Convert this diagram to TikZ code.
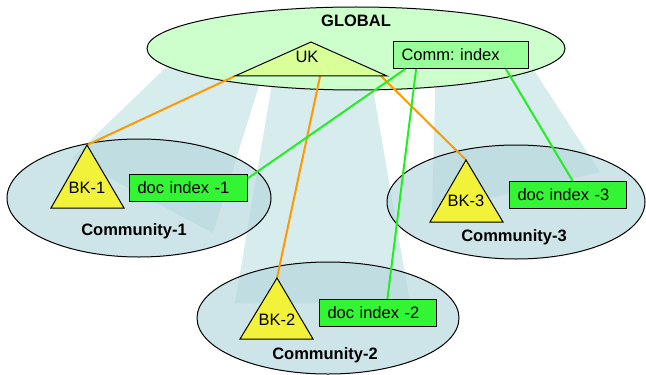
\documentclass[tikz,border=0pt]{standalone}
\usepackage{fontspec}
\setmainfont{Liberation Sans}
\usetikzlibrary{shapes.geometric,calc}
\frenchspacing
\definecolor{beamfill}{HTML}{D6ECED}
\definecolor{commfill}{HTML}{B8D8DE}
\definecolor{globalfill}{HTML}{CCFFCC}
\definecolor{ukfill}{HTML}{D9FF99}
\definecolor{indexfill}{HTML}{99FF99}
\definecolor{docfill}{HTML}{33F533}
\definecolor{bkfill}{HTML}{F2F23A}
\definecolor{linkorange}{HTML}{FF9900}
\definecolor{linkgreen}{HTML}{22EE22}
\tikzset{
  beam/.style={fill=beamfill},
  zone/.style={ellipse, draw=black, line width=0.5pt, fill=commfill, fill opacity=0.7, inner sep=0pt},
  globalzone/.style={ellipse, draw=black, line width=0.5pt, fill=globalfill, inner sep=0pt},
  tri/.style={draw=black, line width=0.5pt, line join=miter},
  label/.style={font=\fontsize{8.25}{10}\selectfont, inner sep=0pt},
  title/.style={font=\fontsize{8.25}{10}\selectfont\bfseries, inner sep=0pt},
  databox/.style={draw=black, line width=0.5pt, anchor=north west, minimum height=13.5pt,
    inner ysep=0pt, inner xsep=4pt, align=left, font=\fontsize{8.25}{10}\selectfont},
  orangelink/.style={draw=linkorange, line width=1pt},
  greenlink/.style={draw=linkgreen, line width=1pt},
}
\begin{document}
\begin{tikzpicture}[x=0.5pt, y=-0.5pt]
\useasboundingbox (0,0) rectangle (646,374);

% light beams from the global level down to each community
\fill[beam] (184,50) -- (267,60) -- (213,233) -- (72,158) -- cycle;
\fill[beam] (276,60) -- (368,60) -- (410,303) -- (235,303) -- cycle;
\fill[beam] (436,60) -- (524,55) -- (600,172) -- (432,212) -- cycle;

% global level
\node[globalzone, minimum width=209pt, minimum height=41.5pt] (global) at (356,48.5) {};
\node[title] (globaltitle) at (356,21) {GLOBAL};

% communities
\node[zone, minimum width=132pt, minimum height=59pt] (c1) at (139,198) {};
\node[zone, minimum width=131pt, minimum height=56pt] (c2) at (328,318) {};
\node[zone, minimum width=129pt, minimum height=57pt] (c3) at (516,202) {};
\node[title] (c1title) at (134,231) {Community-1};
\node[title] (c2title) at (325,355) {Community-2};
\node[title] (c3title) at (514,237) {Community-3};

% corner points of the knowledge triangles
\coordinate (ukA) at (235,76);
\coordinate (ukB) at (387,76);
\coordinate (ukC) at (311,42);
\coordinate (bk1top) at (87,145);
\coordinate (bk2top) at (277,278);
\coordinate (bk3top) at (466,160);

% index boxes
\node[databox, fill=indexfill, minimum width=67.5pt, text width=59.5pt] (comm) at (393,41) {Comm: index};
\node[databox, fill=docfill, minimum width=59pt, text width=51pt] (doc1) at (129,174) {doc index -1};
\node[databox, fill=docfill, minimum width=58.5pt, text width=50.5pt] (doc2) at (319,299) {doc index -2};
\node[databox, fill=docfill, minimum width=58.5pt, text width=50.5pt] (doc3) at (509,181) {doc index -3};

% links from the upper knowledge to the community knowledge
\draw[orangelink] (ukA) -- (bk1top);
\draw[orangelink] ($(ukA)!0.56!(ukB)$) -- (bk2top);
\draw[orangelink] ($(ukA)!0.96!(ukB)$) -- (bk3top);

% links from the community index to the document indexes
\draw[greenlink] ($(comm.south west)!0.09!(comm.south east)$) -- ($(doc1.north east)!0.15!(doc1.south east)$);
\draw[greenlink] ($(comm.south west)!0.17!(comm.south east)$) -- ($(doc2.north west)!0.58!(doc2.north east)$);
\draw[greenlink] ($(comm.south west)!0.83!(comm.south east)$) -- ($(doc3.north west)!0.54!(doc3.north east)$);

% knowledge triangles
\draw[tri, fill=ukfill] (ukC) -- (ukB) -- (ukA) -- cycle;
\node[label] (uk) at (307,57) {UK};
\draw[tri, fill=bkfill] (bk1top) -- (124,208) -- (51,208) -- cycle;
\node[label] (bk1) at (87,188) {BK-1};
\draw[tri, fill=bkfill] (bk2top) -- (313,339) -- (240,339) -- cycle;
\node[label] (bk2) at (277,320) {BK-2};
\draw[tri, fill=bkfill] (bk3top) -- (503,222) -- (430,222) -- cycle;
\node[label] (bk3) at (466,201) {BK-3};
\end{tikzpicture}
\end{document}
